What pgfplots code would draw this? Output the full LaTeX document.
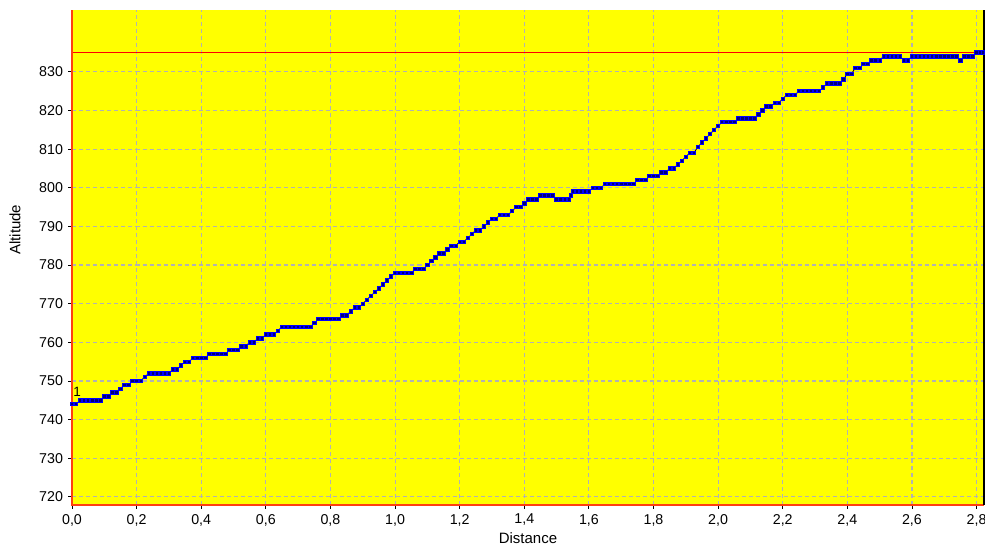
\documentclass[border=0pt]{standalone}
\usepackage{fontspec}
\setmainfont{Liberation Sans}
\usepackage{pgfplots}
\usepackage{pgfplotstable}
\pgfplotsset{compat=1.18}
\definecolor{axred}{RGB}{255,64,16}
\definecolor{bgyellow}{RGB}{255,255,0}
\definecolor{gridgray}{RGB}{178,178,178}
\definecolor{markblue}{RGB}{0,0,255}
\definecolor{markdark}{RGB}{0,0,120}
\pgfplotstableread{
x y
0.0000 744
0.0125 744
0.0250 745
0.0375 745
0.0500 745
0.0625 745
0.0750 745
0.0875 745
0.1000 746
0.1125 746
0.1250 747
0.1375 747
0.1500 748
0.1625 749
0.1750 749
0.1875 750
0.2000 750
0.2125 750
0.2250 751
0.2375 752
0.2500 752
0.2625 752
0.2750 752
0.2875 752
0.3000 752
0.3125 753
0.3250 753
0.3375 754
0.3500 755
0.3625 755
0.3750 756
0.3875 756
0.4000 756
0.4125 756
0.4250 757
0.4375 757
0.4500 757
0.4625 757
0.4750 757
0.4875 758
0.5000 758
0.5125 758
0.5250 759
0.5375 759
0.5500 760
0.5625 760
0.5750 761
0.5875 761
0.6000 762
0.6125 762
0.6250 762
0.6375 763
0.6500 764
0.6625 764
0.6750 764
0.6875 764
0.7000 764
0.7125 764
0.7250 764
0.7375 764
0.7500 765
0.7625 766
0.7750 766
0.7875 766
0.8000 766
0.8125 766
0.8250 766
0.8375 767
0.8500 767
0.8625 768
0.8750 769
0.8875 769
0.9000 770
0.9125 771
0.9250 772
0.9375 773
0.9500 774
0.9625 775
0.9750 776
0.9875 777
1.0000 778
1.0125 778
1.0250 778
1.0375 778
1.0500 778
1.0625 779
1.0750 779
1.0875 779
1.1000 780
1.1125 781
1.1250 782
1.1375 783
1.1500 783
1.1625 784
1.1750 785
1.1875 785
1.2000 786
1.2125 786
1.2250 787
1.2375 788
1.2500 789
1.2625 789
1.2750 790
1.2875 791
1.3000 792
1.3125 792
1.3250 793
1.3375 793
1.3500 793
1.3625 794
1.3750 795
1.3875 795
1.4000 796
1.4125 797
1.4250 797
1.4375 797
1.4500 798
1.4625 798
1.4750 798
1.4875 798
1.5000 797
1.5125 797
1.5250 797
1.5375 797
1.5435 798
1.5500 799
1.5625 799
1.5750 799
1.5875 799
1.6000 799
1.6125 800
1.6250 800
1.6375 800
1.6500 801
1.6625 801
1.6750 801
1.6875 801
1.7000 801
1.7125 801
1.7250 801
1.7375 801
1.7500 802
1.7625 802
1.7750 802
1.7875 803
1.8000 803
1.8125 803
1.8250 804
1.8375 804
1.8500 805
1.8625 805
1.8750 806
1.8875 807
1.9000 808
1.9125 809
1.9250 809
1.9375 810.6
1.9500 811.7
1.9625 812.8
1.9750 813.9
1.9875 815
2.0000 816
2.0125 817
2.0250 817
2.0375 817
2.0500 817
2.0625 818
2.0750 818
2.0875 818
2.1000 818
2.1125 818
2.1250 819
2.1375 820
2.1500 821
2.1625 821
2.1750 822
2.1875 822
2.2000 823
2.2125 824
2.2250 824
2.2375 824
2.2500 825
2.2625 825
2.2750 825
2.2875 825
2.3000 825
2.3125 825
2.3250 826
2.3375 827
2.3500 827
2.3625 827
2.3750 827
2.3875 828
2.4000 829.5
2.4125 829.5
2.4250 831
2.4375 831
2.4500 832
2.4625 832
2.4750 833
2.4875 833
2.5000 833
2.5125 834
2.5250 834
2.5375 834
2.5500 834
2.5625 834
2.5750 833
2.5875 833
2.6000 834
2.6125 834
2.6250 834
2.6375 834
2.6500 834
2.6625 834
2.6750 834
2.6875 834
2.7000 834
2.7125 834
2.7250 834
2.7375 834
2.7500 833
2.7625 834
2.7750 834
2.7875 834
2.8000 835
2.8125 835
2.8200 835
}\altdata
\begin{document}
\begin{tikzpicture}
\begin{axis}[
  scale only axis, width=608pt, height=330pt,
  xmin=0, xmax=2.823, ymin=717.9, ymax=846,
  axis background/.style={fill=bgyellow},
  axis line style={draw=none},
  clip=false,
  xtick={0,0.2,0.4,0.6,0.8,1.0,1.2,1.4,1.6,1.8,2.0,2.2,2.4,2.6,2.8},
  xticklabels={{0,0},{0,2},{0,4},{0,6},{0,8},{1,0},{1,2},{1,4},{1,6},{1,8},{2,0},{2,2},{2,4},{2,6},{2,8}},
  ytick={720,730,...,830},
  grid=major,
  major grid style={gridgray, dash pattern=on 2.7pt off 2pt, line width=0.75pt},
  tick align=outside,
  xtick pos=bottom, ytick pos=left,
  major tick length=2.5pt,
  tick style={black, line width=0.6pt},
  ticklabel style={font=\fontsize{9.5}{11}\selectfont},
  /pgf/number format/assume math mode=true,
  xlabel={Distance}, ylabel={Altitude},
  label style={font=\fontsize{8.5}{10}\selectfont},
  every axis x label/.style={at={(rel axis cs:0.5,0)}, yshift=-22pt, anchor=center},
  every axis y label/.style={at={(rel axis cs:0,0.556)}, xshift=-38pt, rotate=90, anchor=center},
]
\addplot[red, line width=0.8pt, no marks] coordinates {(0,835) (2.823,835)};
\addplot[black, line width=0.5pt, mark=square*, mark size=1.15pt,
  mark options={fill=markdark, draw=markblue, line width=0.55pt}] table[x=x, y=y] {\altdata};
\draw[axred, line width=0.9pt] (rel axis cs:0,1) -- (rel axis cs:0,0) -- (rel axis cs:1,0);
\draw[black, line width=0.7pt] (rel axis cs:1,0) -- (rel axis cs:1,1);
\node[font=\fontsize{9}{11}\selectfont, inner sep=0pt, anchor=west] at (axis cs:0.003,747.2) {1};
\end{axis}
\fill[white] (608.8pt,-28pt) rectangle (613pt,-0.6pt);
\pgfresetboundingbox
\path[use as bounding box] (-48pt,-28pt) rectangle (612pt,336.67pt);
\end{tikzpicture}
\end{document}
